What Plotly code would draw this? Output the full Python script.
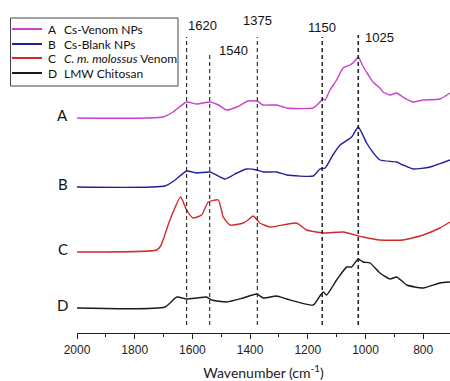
import plotly.graph_objects as go

# ---- data (wavenumber, relative intensity above each trace's own baseline) ----
wn_A = [2000, 1702, 1667, 1620, 1585, 1539, 1510, 1481, 1446, 1407, 1377, 1355, 1308, 1273, 1182, 1158, 1147, 1140,
        1123, 1100, 1078, 1054, 1040, 1025, 1009, 990, 974, 950, 939, 915, 892, 870, 835, 800, 742, 707]
int_A = [0, 1, 6, 16, 14, 16, 13, 8, 11, 17, 17, 13, 13, 10, 10, 16, 19, 18,
         28, 38, 50, 53, 56, 61, 52, 43, 36, 30, 26, 23, 25, 21, 16, 18, 19, 25]

wn_B = [2000, 1695, 1660, 1620, 1585, 1539, 1487, 1446, 1412, 1377, 1354, 1308, 1273, 1181, 1158, 1140,
        1113, 1088, 1048, 1025, 996, 975, 950, 892, 870, 835, 776, 707]
int_B = [0, 1, 7, 16, 14, 15, 8, 14, 18, 17, 15, 15, 12, 11, 18, 19,
         32, 42, 50, 60, 44, 35, 27, 25, 22, 18, 20, 27]

wn_C = [2000, 1724, 1710, 1690, 1678, 1641, 1620, 1598, 1568, 1545, 1510, 1493, 1470, 1424, 1407, 1389,
        1366, 1331, 1239, 1204, 1146, 1078, 1008, 950, 870, 800, 742, 707]
int_C = [0, 2, 6, 22, 32, 55, 42, 34, 37, 50, 52, 35, 27, 29, 32, 36,
         29, 25, 29, 22, 19, 20, 15, 12, 12, 17, 24, 30]

wn_D = [2000, 1695, 1654, 1620, 1585, 1551, 1533, 1481, 1424, 1377, 1354, 1308, 1273, 1181, 1158, 1146,
        1135, 1100, 1065, 1048, 1025, 1008, 984, 950, 915, 892, 857, 800, 742, 707]
int_D = [0, 1, 11, 9, 10, 11, 8, 6, 10, 14, 10, 12, 9, 3, 12, 16,
         13, 28, 41, 41, 49, 46, 45, 35, 29, 31, 23, 20, 25, 26]

series_letters = ["A", "B", "C", "D"]
series_names = ["Cs-Venom NPs", "Cs-Blank NPs", "<i>C. m. molossus</i> Venom", "LMW Chitosan"]
series_offsets = [190, 121, 56, 0]
series_colors = ["#cc3fcc", "#1f1f9e", "#d02a2a", "#1a1a1a"]
series_wn = [wn_A, wn_B, wn_C, wn_D]
series_int = [int_A, int_B, int_C, int_D]

marker_wn = [1620, 1540, 1375, 1150, 1025]
marker_labels = ["1620", "1540", "1375", "1150", "1025"]

x_ticks = [2000, 1800, 1600, 1400, 1200, 1000, 800]

fig = go.Figure()

for wn, inten, off, col, nm, let in zip(series_wn, series_int, series_offsets, series_colors, series_names, series_letters):
    fig.add_trace(go.Scatter(
        x=wn, y=[v + off for v in inten], mode="lines",
        line=dict(color=col, width=1.4, shape="spline", smoothing=0.5),
        name=f"{let}  {nm}", showlegend=False, hoverinfo="skip",
    ))

# ---- trace letters left of the traces ----
for let, off in zip(series_letters, series_offsets):
    fig.add_annotation(x=-0.038, xref="paper", y=off + 3, yref="y", text=let, showarrow=False,
                       font=dict(family="Lato", size=15, color="#111"), xanchor="center", yanchor="middle")

# ---- dashed marker lines ----
line_tops = [271, 253, 271, 271, 273]
line_widths = [1.1, 1.1, 1.1, 1.5, 1.6]
label_y = [283, 258, 288, 281, 271]
label_anchor = ["left", "center", "center", "center", "left"]
label_x_shift = [-1, 24, 0, 0, 5]
for w, top, lw, lab, ly, anc, sh in zip(marker_wn, line_tops, line_widths, marker_labels, label_y, label_anchor, label_x_shift):
    fig.add_shape(type="line", x0=w, x1=w, y0=-17, y1=top, xref="x", yref="y",
                  line=dict(color="#222", width=lw, dash="4px,3px"))
    fig.add_annotation(x=w, y=ly, xref="x", yref="y", text=lab, showarrow=False, xshift=sh,
                       xanchor=anc, yanchor="middle", font=dict(family="Liberation Sans", size=13, color="#111"))

# ---- manual legend box ----
px = lambda p: (p - 77) / 373.0
fig.add_shape(type="rect", xref="paper", yref="y", x0=px(10.5), x1=px(178), y0=308 - 86, y1=308 - 18,
              line=dict(color="#444", width=1), fillcolor="white", layer="above")
row_y = [279, 264, 250, 235]
for let, nm, col, ry in zip(series_letters, series_names, series_colors, row_y):
    fig.add_shape(type="line", xref="paper", yref="y", x0=px(12), x1=px(42), y0=ry, y1=ry,
                  line=dict(color=col, width=2), layer="above")
    fig.add_annotation(x=px(46), y=ry, xref="paper", yref="y", text=let, showarrow=False,
                       xanchor="left", yanchor="middle", font=dict(family="Lato", size=12, color="#111"))
    fig.add_annotation(x=px(62), y=ry, xref="paper", yref="y", text=nm, showarrow=False,
                       xanchor="left", yanchor="middle", font=dict(family="Lato", size=12, color="#111"))

fig.update_layout(
    width=450, height=381,
    margin=dict(l=77, r=0, t=0, b=48),
    paper_bgcolor="white", plot_bgcolor="white",
    xaxis=dict(
        range=[2000, 707], tickvals=x_ticks, ticktext=[str(t) for t in x_ticks],
        showgrid=False, zeroline=False, showline=True, linecolor="#222", linewidth=1.2,
        ticks="outside", ticklen=5, tickwidth=1.2, tickcolor="#222",
        minor=dict(dtick=100, ticks="outside", ticklen=3, tickwidth=1.2, tickcolor="#222", tick0=2000),
        tickfont=dict(family="Liberation Sans", size=12, color="#222"),
        title=dict(text="Wavenumber (cm<sup>-1</sup>)", standoff=12,
                   font=dict(family="Lato", size=14, color="#222")),
    ),
    yaxis=dict(range=[-25, 308], visible=False, showgrid=False, zeroline=False),
    showlegend=False,
)

fig.write_html("out.html")
